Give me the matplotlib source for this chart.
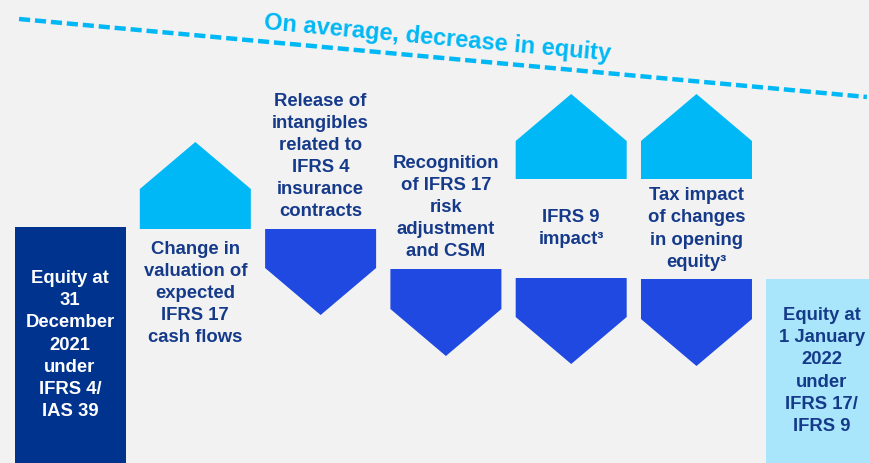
import matplotlib.pyplot as plt
import numpy as np

# waterfall steps (schematic in pixel-like units)
labels = ['Equity at\n31\nDecember\n2021\nunder\nIFRS 4/\nIAS 39',
          'Change in\nvaluation of\nexpected\nIFRS 17\ncash flows',
          'Release of\nintangibles\nrelated to\nIFRS 4\ninsurance\ncontracts',
          'Recognition\nof IFRS 17\nrisk\nadjustment\nand CSM',
          'IFRS 9\nimpact\u00b3',
          'Tax impact\nof changes\nin opening\nequity\u00b3',
          'Equity at\n1 January\n2022\nunder\nIFRS 17/\nIFRS 9']
equity_start = 236
equity_end = 184
up_base = [None, 234, None, None, 284, 284, None]
up_top = [None, 274, None, None, 322, 322, None]
down_top = [None, None, 234, 194, 185, 184, None]
down_bottom = [None, None, 195, 154, 146, 144, None]
trend_title = 'On average, decrease in equity'

NAVY = '#00338D'
CYAN = '#00B8F5'
BLUE = '#1F49E0'
LIGHT = '#A9E6FB'
TXT = '#163A8A'
BG = '#F2F2F2'

plt.rcParams['font.family'] = ['Liberation Sans', 'DejaVu Sans']

fig = plt.figure(figsize=(8.7, 4.63), dpi=100, facecolor=BG)
ax = fig.add_axes([0, 0, 1, 1])
ax.set_facecolor(BG)
ax.set_xlim(-0.559, 6.385)
ax.set_ylim(0, 463)
ax.axis('off')

w = 0.886
head = 47
x = np.arange(len(labels))

ax.bar(x[0], equity_start, width=w, color=NAVY)
ax.bar(x[-1], equity_end, width=w, color=LIGHT)

for i in x:
    if up_base[i] is not None:
        xs = [i - w/2, i + w/2, i + w/2, i, i - w/2]
        ys = [up_base[i], up_base[i], up_top[i], up_top[i] + head, up_top[i]]
        ax.fill(xs, ys, color=CYAN, lw=0)
    if down_top[i] is not None:
        xs = [i - w/2, i + w/2, i + w/2, i, i - w/2]
        ys = [down_top[i], down_top[i], down_bottom[i], down_bottom[i] - head, down_bottom[i]]
        ax.fill(xs, ys, color=BLUE, lw=0)

fs = 13.3
ls = 1.39
ax.text(x[0], equity_start / 2, labels[0], ha='center', va='center', color='white',
        fontsize=fs, fontweight='bold', linespacing=ls)
ax.text(x[-1], equity_end / 2, labels[-1], ha='center', va='center', color=TXT,
        fontsize=fs, fontweight='bold', linespacing=ls)
for i in x[1:-1]:
    if up_base[i] is not None and down_top[i] is not None:
        y, va = (up_base[i] + down_top[i]) / 2, 'center'
    elif up_base[i] is not None:
        y, va = up_base[i] - 12, 'top'
    else:
        y, va = down_top[i] + 9, 'bottom'
    ax.text(i, y, labels[i], ha='center', va=va, color=TXT, fontsize=fs,
            fontweight='bold', linespacing=ls)

# dashed trend arrow across the top
tx0, ty0 = -0.407, 444
tx1, ty1 = 6.36, 366
ax.plot([tx0, tx1], [ty0, ty1], color=CYAN, lw=3.2, ls=(0, (2.5, 1.1)),
        solid_capstyle='butt', dash_capstyle='butt')
ax.annotate('', xy=(6.48, 357), xytext=(tx1, ty1),
            arrowprops=dict(arrowstyle='-|>,head_length=0.8,head_width=0.45',
                            color=CYAN, lw=0, shrinkA=0, shrinkB=0, mutation_scale=20))
ax.text(2.93, 425, trend_title, ha='center', va='center', rotation=-5.2,
        rotation_mode='anchor', color=CYAN, fontsize=17, fontweight='bold')

fig.savefig('out.png', dpi=100, facecolor=BG)
